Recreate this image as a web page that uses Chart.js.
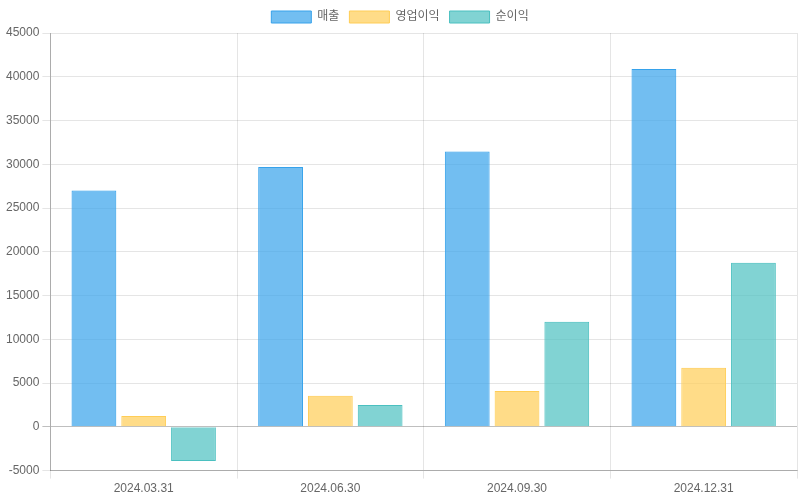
<!DOCTYPE html>
<html>
<head>
<meta charset="utf-8">
<script src="https://cdn.jsdelivr.net/npm/chart.js@4"></script>
<style>
html,body{margin:0;padding:0;background:#fff;}
#wrap{width:800px;height:500px;}
</style>
</head>
<body>
<div id="wrap"><canvas id="c"></canvas></div>
<script>
const categories = ['2024.03.31', '2024.06.30', '2024.09.30', '2024.12.31'];
const seriesNames = ['매출', '영업이익', '순이익'];
const sales = [27000, 29700, 31450, 40900];
const operatingProfit = [1250, 3550, 4100, 6750];
const netProfit = [-3900, 2500, 12000, 18750];

Chart.defaults.font.family = '"Liberation Sans", "Noto Sans CJK KR", sans-serif';
Chart.defaults.color = '#666';

new Chart(document.getElementById('c'), {
  type: 'bar',
  data: {
    labels: categories,
    datasets: [
      { label: seriesNames[0], data: sales, backgroundColor: 'rgba(54,162,235,0.7)', borderColor: 'rgb(54,162,235)', borderWidth: 1 },
      { label: seriesNames[1], data: operatingProfit, backgroundColor: 'rgba(255,205,86,0.7)', borderColor: 'rgb(255,205,86)', borderWidth: 1 },
      { label: seriesNames[2], data: netProfit, backgroundColor: 'rgba(75,192,192,0.7)', borderColor: 'rgb(75,192,192)', borderWidth: 1 }
    ]
  },
  options: {
    responsive: true,
    maintainAspectRatio: false,
    animation: false,
    layout: { padding: { left: 3, right: 3, top: 1, bottom: 1 } },
    plugins: { legend: { position: 'top' } },
    scales: {
      y: {
        min: -5000, max: 45000,
        ticks: { stepSize: 5000, callback: v => String(v) },
        grid: { color: ctx => (ctx.tick && ctx.tick.value === 0) ? 'rgba(0,0,0,0.25)' : 'rgba(0,0,0,0.1)' },
        border: { color: 'rgba(0,0,0,0.25)' }
      },
      x: {
        grid: { color: 'rgba(0,0,0,0.1)' },
        border: { color: 'rgba(0,0,0,0.25)' }
      }
    }
  }
});
</script>
</body>
</html>
